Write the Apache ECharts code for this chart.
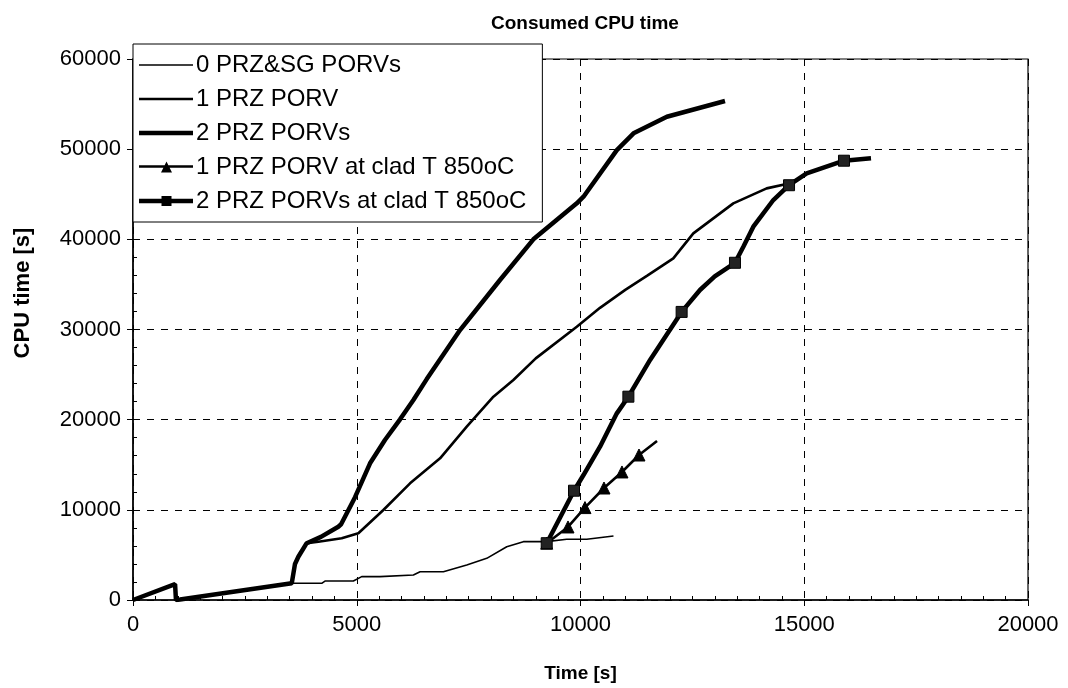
<!DOCTYPE html>
<html>
<head>
<meta charset="utf-8">
<script src="https://cdn.jsdelivr.net/npm/echarts@6/dist/echarts.min.js"></script>
<style>
html,body{margin:0;padding:0;background:#fff;}
#chart{width:1068px;height:688px;}
</style>
</head>
<body>
<div id="chart"></div>
<script>
// ---- data ----
const chartTitle = 'Consumed CPU time';
const xName = 'Time [s]';
const yName = 'CPU time [s]';
const xTicks = [0, 5000, 10000, 15000, 20000];
const yTicks = [0, 10000, 20000, 30000, 40000, 50000, 60000];

const seriesNames = ['0 PRZ&SG PORVs', '1 PRZ PORV', '2 PRZ PORVs',
  '1 PRZ PORV at clad T 850oC', '2 PRZ PORVs at clad T 850oC'];

const s0Time = [0, 940, 960, 1050, 3547, 3600, 4217, 4290, 4924, 5111, 5520, 6266, 6415, 6936, 7458, 7905, 8352, 8723, 9245, 9692, 10140, 10737];
const s0Cpu  = [0, 1770, 0, 50, 1850, 1850, 1850, 2100, 2100, 2590, 2590, 2770, 3140, 3140, 3880, 4620, 5910, 6470, 6470, 6730, 6730, 7100];

const s1Time = [0, 940, 960, 1050, 3547, 3620, 3700, 3881, 4142, 4664, 5036, 5595, 6191, 6862, 7458, 8054, 8500, 9000, 9917, 10436, 11000, 11500, 12074, 12521, 13415, 14160, 14682];
const s1Cpu  = [0, 1770, 0, 50, 1850, 4000, 4900, 6300, 6470, 6840, 7400, 9980, 12940, 15710, 19220, 22550, 24400, 26800, 30310, 32400, 34400, 36000, 37890, 40660, 43990, 45650, 46210];

const s2Time = [0, 940, 960, 1050, 3547, 3620, 3695, 3881, 4200, 4588, 4650, 4962, 5297, 5630, 5968, 6266, 6564, 7308, 8201, 8947, 9917, 10067, 10812, 11185, 11930, 13229];
const s2Cpu  = [0, 1770, 0, 50, 1850, 4000, 4800, 6300, 7000, 8130, 8400, 11400, 15160, 17740, 20040, 22180, 24500, 29940, 35490, 40000, 43990, 44730, 49900, 51760, 53600, 55340];

const s3Time = [9245, 9721, 10100, 10525, 10927, 11307, 11710];
const s3Cpu  = [6300, 8100, 10250, 12420, 14200, 16080, 17630];
const s3MarkerTime = [9245, 9721, 10100, 10525, 10927, 11307];

const s4Time = [9245, 9855, 10067, 10436, 10812, 11070, 11555, 12260, 12670, 13000, 13452, 13639, 13862, 14309, 14660, 15054, 15888, 16492];
const s4Cpu  = [6300, 12120, 13860, 17000, 20700, 22550, 26620, 31950, 34380, 35900, 37400, 39180, 41400, 44360, 46000, 47320, 48720, 49000];
const s4MarkerTime = [9245, 9855, 11070, 12260, 13452, 14660, 15888];

// ---- build ----
function pairs(t, v) { return t.map((x, i) => [x, v[i]]); }
function marked(t, v, marks, sym) {
  return t.map((x, i) => marks.indexOf(x) >= 0
    ? { value: [x, v[i]], symbol: sym }
    : { value: [x, v[i]], symbol: 'none' });
}

const FONT = 'Liberation Sans, Arial, sans-serif';
const chart = echarts.init(document.getElementById('chart'), null, { renderer: 'canvas' });

const gridLeft = 133, gridTop = 59, gridRight = 40, gridBottom = 88;
const widths = [1.6, 2.6, 4.5, 2.6, 4.5];

// legend glyphs: a horizontal stroke (and marker) drawn as a path, 54 x 12 box
function lineIcon(w) {
  return 'path://M0,0H54V' + w + 'H0Z';
}
const legendIcons = [
  lineIcon(widths[0]),
  lineIcon(widths[1]),
  lineIcon(widths[2]),
  'path://M0,4.7H54V7.3H0Z M22,12L27.5,1L33,12Z',
  'path://M0,3.75H54V8.25H0Z M22.5,1H32.5V11H22.5Z'
];

const baseLine = (i, data, extra) => Object.assign({
  name: seriesNames[i],
  type: 'line',
  data: data,
  symbol: 'none',
  showSymbol: true,
  smooth: false,
  z: 3,
  lineStyle: { color: '#000', width: widths[i] },
  itemStyle: { color: '#000', borderColor: '#000' },
  emphasis: { disabled: true }
}, extra || {});

chart.setOption({
  animation: false,
  backgroundColor: '#fff',
  title: {
    text: chartTitle,
    left: 486,
    top: 9,
    textStyle: { fontFamily: FONT, fontSize: 19, fontWeight: 'bold', color: '#000' }
  },
  graphic: [{
    type: 'text',
    x: 23, y: 293,
    rotation: Math.PI / 2,
    style: {
      text: yName,
      fontFamily: FONT, fontSize: 22, fontWeight: 'bold', fill: '#000',
      textAlign: 'center', textVerticalAlign: 'middle'
    }
  }],
  legend: {
    orient: 'vertical',
    left: gridLeft,
    top: 44,
    itemWidth: 54,
    itemHeight: 12,
    itemGap: 10,
    symbolKeepAspect: true,
    padding: [9, 16, 9, 6],
    borderColor: '#000',
    borderWidth: 1,
    backgroundColor: '#fff',
    z: 10,
    itemStyle: { color: '#000', borderWidth: 0 },
    textStyle: { fontFamily: FONT, fontSize: 24, color: '#000', padding: [0, 0, 0, -2] },
    data: seriesNames.map((n, i) => ({ name: n, icon: legendIcons[i] }))
  },
  grid: {
    left: gridLeft, top: gridTop, right: gridRight, bottom: gridBottom,
    show: true, borderColor: '#000', borderWidth: 1.2, backgroundColor: 'transparent'
  },
  xAxis: [{
    type: 'value',
    min: xTicks[0], max: xTicks[xTicks.length - 1], interval: xTicks[1] - xTicks[0],
    name: xName, nameLocation: 'middle', nameGap: 64,
    nameTextStyle: { fontFamily: FONT, fontSize: 19, fontWeight: 'bold', color: '#000' },
    axisLine: { show: true, onZero: false, lineStyle: { color: '#000', width: 1.5 } },
    axisTick: { show: true, inside: true, length: 0, lineStyle: { color: '#000' } },
    minorTick: { show: true, splitNumber: 10, length: 4, lineStyle: { color: '#000', width: 1 } },
    axisLabel: { fontFamily: FONT, fontSize: 22, color: '#000', margin: 14, formatter: v => String(v) },
    splitLine: { show: true, lineStyle: { color: '#000', type: [7, 7], width: 1 } }
  }, {
    type: 'value', position: 'bottom',
    min: xTicks[0], max: xTicks[xTicks.length - 1], interval: xTicks[1] - xTicks[0],
    axisLine: { show: false },
    axisTick: { show: true, inside: false, length: 6, lineStyle: { color: '#000' } },
    axisLabel: { show: false },
    splitLine: { show: false }
  }],
  yAxis: [{
    type: 'value',
    min: yTicks[0], max: yTicks[yTicks.length - 1], interval: yTicks[1] - yTicks[0],
    axisLine: { show: true, onZero: false, lineStyle: { color: '#000', width: 1.5 } },
    axisTick: { show: true, inside: true, length: 0, lineStyle: { color: '#000' } },
    minorTick: { show: true, splitNumber: 5, length: 4, lineStyle: { color: '#000', width: 1 } },
    axisLabel: { fontFamily: FONT, fontSize: 22, color: '#000', margin: 12, formatter: v => String(v) },
    splitLine: { show: true, lineStyle: { color: '#000', type: [7, 7], width: 1 } }
  }, {
    type: 'value', position: 'left',
    min: yTicks[0], max: yTicks[yTicks.length - 1], interval: yTicks[1] - yTicks[0],
    axisLine: { show: false },
    axisTick: { show: true, inside: false, length: 6, lineStyle: { color: '#000' } },
    axisLabel: { show: false },
    splitLine: { show: false }
  }],
  series: [
    baseLine(0, pairs(s0Time, s0Cpu)),
    baseLine(1, pairs(s1Time, s1Cpu)),
    baseLine(2, pairs(s2Time, s2Cpu)),
    baseLine(3, marked(s3Time, s3Cpu, s3MarkerTime, 'triangle'),
      { symbol: 'triangle', symbolSize: 12 }),
    baseLine(4, marked(s4Time, s4Cpu, s4MarkerTime, 'rect'),
      { symbol: 'rect', symbolSize: 11, itemStyle: { color: '#222', borderColor: '#000', borderWidth: 1 } })
  ]
});
</script>
</body>
</html>
